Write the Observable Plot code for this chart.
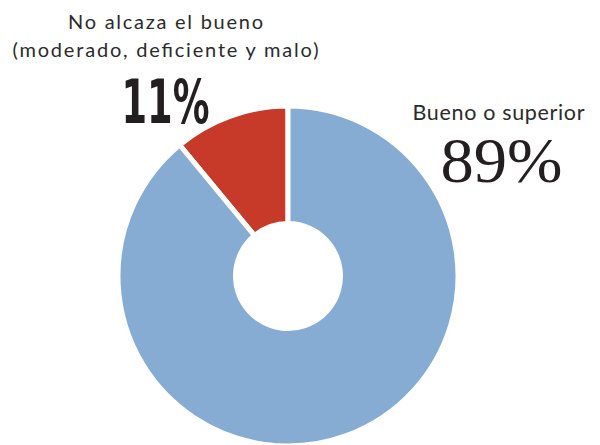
<!DOCTYPE html>
<html>
<head>
<meta charset="utf-8">
<script src="https://cdn.jsdelivr.net/npm/d3@7"></script>
<script src="https://cdn.jsdelivr.net/npm/@observablehq/plot@0.6"></script>
<style>
  html, body { margin: 0; padding: 0; background: #fff; }
  #chart svg { display: block; }
</style>
</head>
<body>
<div id="chart"></div>
<script>
// Data
const categories = ["No alcaza el bueno", "Bueno o superior"];
const values = [11, 89];
const colors = ["#c73928", "#87acd3"];
const labelLines = [["No alcaza el bueno", "(moderado, deficiente y malo)"], ["Bueno o superior"]];
const pctLabels = ["11%", "89%"];

const total = d3.sum(values);
const slices = categories.map((c, i) => ({category: c, value: values[i], color: colors[i]}));

// Donut geometry (in data units of the identity-like scales)
const cx = 288, cy = 276, outerR = 170, innerR = 52.5;

function donutMark(data) {
  return (index, scales, channels, dimensions, context) => {
    const g = d3.create("svg:g");
    const start = -2 * Math.PI * data[0].value / total;
    const pie = d3.pie().sort(null).value(d => d.value).startAngle(start).endAngle(start + 2 * Math.PI);
    const k = scales.x(1) - scales.x(0);
    const arc = d3.arc().innerRadius(innerR * k).outerRadius(outerR * k);
    g.attr("transform", `translate(${scales.x(cx)},${scales.y(cy)})`);
    g.selectAll("path").data(pie(data)).join("path")
      .attr("d", arc)
      .attr("fill", d => d.data.color)
      .attr("stroke", "#fff")
      .attr("stroke-width", 5)
      .attr("stroke-linejoin", "miter");
    return g.node();
  };
}

const smallFont = "Lato, 'Open Sans', sans-serif";

const chart = Plot.plot({
  width: 600,
  height: 445,
  margin: 0,
  x: {domain: [0, 600], range: [0, 600], axis: null},
  y: {domain: [0, 445], range: [0, 445], axis: null},
  style: {background: "#fff"},
  marks: [
    donutMark(slices),
    // left labels
    Plot.text([labelLines[0][0]], {x: () => 165, y: () => 28, text: d => d, fontSize: 20, fill: "#2b2b2b", fontFamily: smallFont, lineAnchor: "bottom", textAnchor: "middle", className: "lab1"}),
    Plot.text([labelLines[0][1]], {x: () => 165, y: () => 56.5, text: d => d, fontSize: 20, fill: "#2b2b2b", fontFamily: smallFont, lineAnchor: "bottom", textAnchor: "middle", className: "lab2"}),
    Plot.text([pctLabels[0]], {x: () => 165, y: () => 122, text: d => d, fontSize: 60, fontWeight: "bold", fill: "#231f20", fontFamily: "'DejaVu Sans Condensed', 'DejaVu Sans', sans-serif", lineAnchor: "bottom", textAnchor: "middle", className: "big11"}),
    // right labels
    Plot.text([labelLines[1][0]], {x: () => 498, y: () => 119, text: d => d, fontSize: 21.5, fill: "#2b2b2b", fontFamily: smallFont, lineAnchor: "bottom", textAnchor: "middle", className: "lab3"}),
    Plot.text([pctLabels[1]], {x: () => 501, y: () => 181, text: d => d, fontSize: 63, fill: "#231f20", fontFamily: "'Liberation Serif', serif", lineAnchor: "bottom", textAnchor: "middle", className: "big89"})
  ]
});
document.getElementById("chart").appendChild(chart);
// fit text widths to the reference
const fit = (cls, len, mode) => d3.select(chart).selectAll(`.${cls} text`).attr("textLength", len).attr("lengthAdjust", mode);
fit("lab1", 195, "spacing");
fit("lab2", 306, "spacing");
fit("lab3", 172, "spacing");
fit("big11", 88, "spacingAndGlyphs");
fit("big89", 122, "spacingAndGlyphs");
</script>
</body>
</html>
